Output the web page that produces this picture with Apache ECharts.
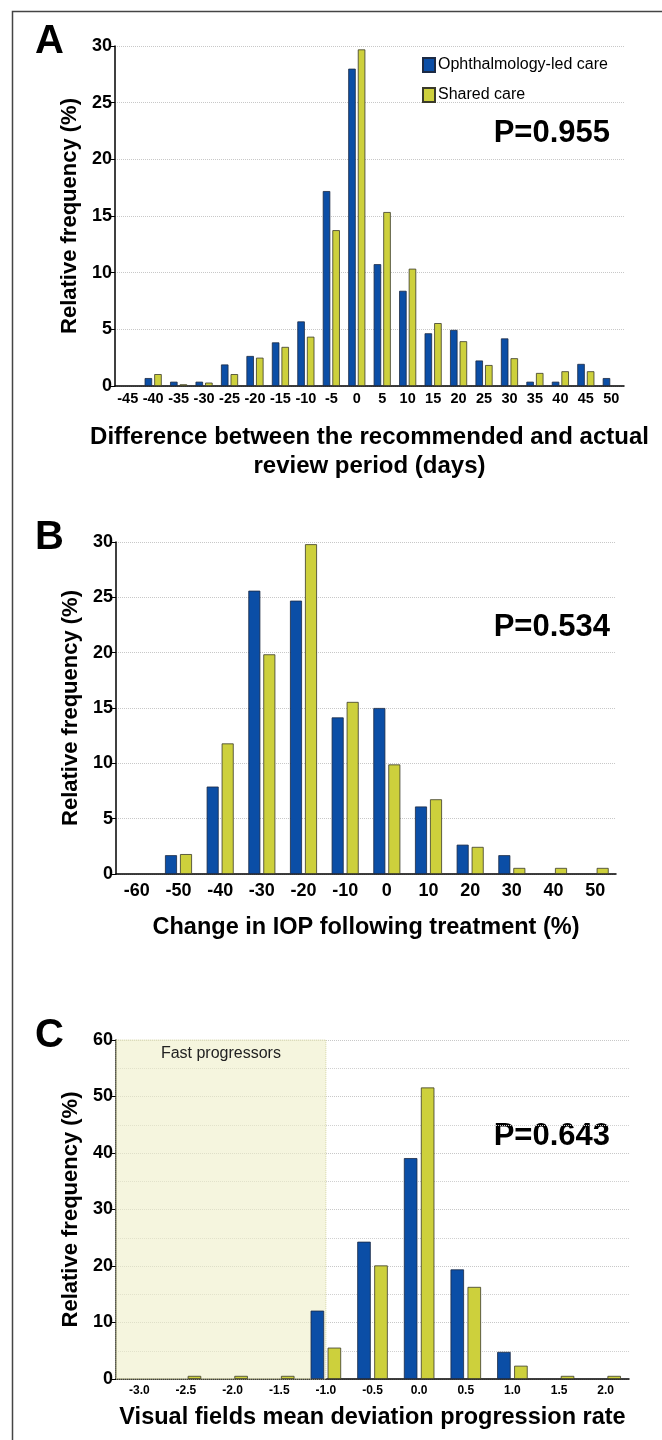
<!DOCTYPE html>
<html>
<head>
<meta charset="utf-8">
<script src="https://cdn.jsdelivr.net/npm/echarts@6/dist/echarts.min.js"></script>
<style>
html,body{margin:0;padding:0;background:#fff;}
#main{width:662px;height:1440px;}
</style>
</head>
<body>
<div id="main"></div>
<script>
// ---------- DATA ----------
const seriesNames = ['Ophthalmology-led care', 'Shared care'];

const catsA = ['-45','-40','-35','-30','-25','-20','-15','-10','-5','0','5','10','15','20','25','30','35','40','45','50'];
const ophA  = [0, 0.7, 0.38, 0.38, 1.9, 2.65, 3.85, 5.7, 17.2, 28.0, 10.75, 8.4, 4.65, 4.95, 2.25, 4.2, 0.38, 0.38, 1.95, 0.7];
const shrA  = [0, 1.05, 0.15, 0.3, 1.05, 2.5, 3.45, 4.35, 13.75, 29.7, 15.35, 10.35, 5.55, 3.95, 1.85, 2.45, 1.15, 1.3, 1.3, 0];

const catsB = ['-60','-50','-40','-30','-20','-10','0','10','20','30','40','50'];
const ophB  = [0, 1.7, 7.9, 25.6, 24.7, 14.15, 15.0, 6.1, 2.65, 1.7, 0, 0];
const shrB  = [0, 1.8, 11.8, 19.85, 29.8, 15.55, 9.9, 6.75, 2.45, 0.55, 0.55, 0.55];

const catsC = ['-3.0','-2.5','-2.0','-1.5','-1.0','-0.5','0.0','0.5','1.0','1.5','2.0'];
const ophC  = [0, 0, 0, 0, 12.1, 24.3, 39.1, 19.4, 4.8, 0, 0];
const shrC  = [0, 0.55, 0.55, 0.55, 5.55, 20.1, 51.6, 16.3, 2.35, 0.55, 0.55];

const pValues = ['P=0.955', 'P=0.534', 'P=0.643'];
const panelLetters = ['A', 'B', 'C'];
const xTitles = ['Difference between the recommended and actual\nreview period (days)',
                 'Change in IOP following treatment (%)',
                 'Visual fields mean deviation progression rate'];
const yTitle = 'Relative frequency (%)';
const fastLabel = 'Fast progressors';
const fastThreshold = '-1.0';

// ---------- STYLE ----------
const FONT = '"Liberation Sans", Arial, sans-serif';
const BLUE = '#0b4ea6';
const YELLOW = '#cdd03c';
const gridLine = {show: true, lineStyle: {color: '#c8c8c8', type: 'dotted', width: 1}};

const chart = echarts.init(document.getElementById('main'), null, {renderer: 'canvas'});

const grids = [
  {left: 115, top: 46, width: 509, height: 340},
  {left: 116, top: 542, width: 500, height: 332},
  {left: 116, top: 1040, width: 513, height: 339}
];

const cats = [catsA, catsB, catsC];
const xFont = [14.5, 18, 12];
const xMargin = [5, 8, 6];
const nameGaps = [37, 39, 24];
const titleSize = [24, 23.5, 23.5];

const xAxes = cats.map((c, i) => ({
  type: 'category', gridIndex: i, data: c,
  axisLine: {lineStyle: {color: '#000', width: 1.5}},
  axisTick: {alignWithLabel: true, length: 4, lineStyle: {color: '#000'}},
  axisLabel: {interval: 0, color: '#000', fontFamily: FONT, fontWeight: 'bold', fontSize: xFont[i], margin: xMargin[i]},
  name: xTitles[i], nameLocation: 'middle', nameGap: nameGaps[i],
  nameTextStyle: {fontFamily: FONT, fontWeight: 'bold', fontSize: titleSize[i], color: '#000', lineHeight: 29},
  splitLine: {show: false}
}));

const yMax = [30, 30, 60];
const yInt = [5, 5, 10];
const yAxes = [0,1,2].map(i => ({
  type: 'value', gridIndex: i, min: 0, max: yMax[i], interval: yInt[i],
  axisLine: {show: true, lineStyle: {color: '#000', width: 1.5}},
  axisTick: {show: true, length: 4, lineStyle: {color: '#000'}},
  axisLabel: {color: '#000', fontFamily: FONT, fontWeight: 'bold', fontSize: 18, margin: 3},
  splitLine: gridLine,
  minorTick: {show: false, splitNumber: 2},
  minorSplitLine: i === 2 ? {show: true, lineStyle: {color: '#d0d0d0', type: 'dotted', width: 1}} : {show: false},
  name: yTitle, nameLocation: 'middle', nameRotate: 90, nameGap: 27,
  nameTextStyle: {fontFamily: FONT, fontWeight: 'bold', fontSize: 22, color: '#000'}
}));

const barW = [7.5, 12, 13.5];
const gaps = ['28%', '25%', '26%'];
const oph = [ophA, ophB, ophC];
const shr = [shrA, shrB, shrC];
// zero-height bars: no outline
const toItems = arr => arr.map(v => (v === 0 ? {value: v, itemStyle: {borderWidth: 0, opacity: 0}} : v));
const series = [];
for (let i = 0; i < 3; i++) {
  series.push({
    name: seriesNames[0], type: 'bar', xAxisIndex: i, yAxisIndex: i, data: toItems(oph[i]),
    barWidth: barW[i], barGap: gaps[i],
    itemStyle: {color: BLUE, borderColor: '#1c2a44', borderWidth: 0.8}
  });
  series.push({
    name: seriesNames[1], type: 'bar', xAxisIndex: i, yAxisIndex: i, data: toItems(shr[i]),
    barWidth: barW[i], barGap: gaps[i],
    itemStyle: {color: YELLOW, borderColor: '#3a3a2a', borderWidth: 0.8}
  });
}
// Fast progressors shaded region in panel C
series.push({
  name: 'fast', type: 'line', xAxisIndex: 2, yAxisIndex: 2, data: [], silent: true,
  markArea: {
    silent: true,
    itemStyle: {color: 'rgba(238,238,200,0.6)', borderColor: '#d6d6a6', borderWidth: 1, borderType: 'dotted'},
    label: {show: true, position: 'insideTop', distance: 6, formatter: fastLabel,
            fontFamily: FONT, fontSize: 16, color: '#222'},
    data: [[{xAxis: -Infinity, yAxis: 0}, {xAxis: fastThreshold, yAxis: 60}]]
  }
});

const pY = [133, 627, 1136];
const letterBase = [62, 558, 1056];
const graphics = [
  {type: 'rect', left: 10, top: 9, shape: {width: 651, height: 1445},
   style: {fill: 'none', stroke: '#444', lineWidth: 1.5}, silent: true}
];
for (let i = 0; i < 3; i++) {
  graphics.push({type: 'text', x: 610, y: pY[i],
    style: {text: pValues[i], fontFamily: FONT, fontWeight: 'bold', fontSize: 31, fill: '#000',
            textAlign: 'right', textVerticalAlign: 'middle'}});
  graphics.push({type: 'text', x: 35, y: letterBase[i],
    style: {text: panelLetters[i], fontFamily: FONT, fontWeight: 'bold', fontSize: 40, fill: '#000',
            textAlign: 'left', textVerticalAlign: 'bottom'}});
}

chart.setOption({
  animation: false,
  backgroundColor: '#fff',
  grid: grids,
  xAxis: xAxes,
  yAxis: yAxes,
  legend: {
    data: seriesNames, left: 417, top: 52, orient: 'vertical',
    itemWidth: 12, itemHeight: 14, itemGap: 14, icon: 'rect',
    textStyle: {fontFamily: FONT, fontSize: 16, color: '#000', padding: [0,0,0,-2]}
  },
  series: series,
  graphic: graphics
});
</script>
</body>
</html>
